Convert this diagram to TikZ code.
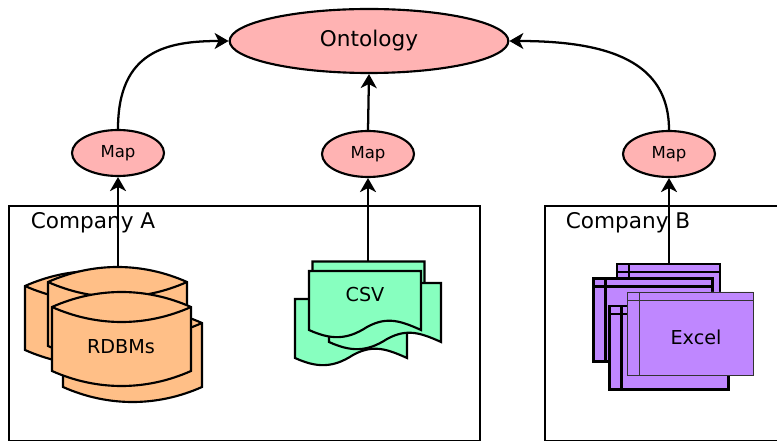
\documentclass[tikz,border=0pt]{standalone}
\usepackage{fontspec}
\setmainfont{DejaVu Sans}
\usetikzlibrary{shapes.geometric}
\usetikzlibrary{arrows.meta}
\definecolor{mypink}{RGB}{255, 179, 179}
\definecolor{myorange}{RGB}{255, 191, 135}
\definecolor{mygreen}{RGB}{135, 255, 191}
\definecolor{mypurple}{RGB}{191, 135, 255}
\tikzset{>={Stealth[length=10.5pt,width=12pt,inset=3pt]}}
\tikzset{outline/.style={draw=black, line width=1.6pt, line join=miter}}
\tikzset{company/.style={outline, line width=1.4pt}}
\tikzset{mapnode/.style={ellipse, outline, fill=mypink, inner sep=0pt, minimum width=69pt, minimum height=34.5pt, font=\fontsize{12.4}{15}\selectfont}}
\tikzset{connect/.style={black, line width=1.7pt, ->}}
\newcommand{\rdbms}[2]{\draw[outline, fill=myorange, shift={(#1,#2)}] (0,0) .. controls (45,-20) and (94,-20) .. (139,0) -- (139,64) .. controls (94,84) and (45,84) .. (0,64) -- cycle;
\draw[outline, shift={(#1,#2)}] (0,0) .. controls (45,20) and (94,20) .. (139,0);}
\newcommand{\csvdoc}[2]{\draw[outline, fill=mygreen, shift={(#1,#2)}] (0,0) -- (112,0) -- (112,59) .. controls (92,50) and (78,45) .. (58,56) .. controls (38,69) and (22,69) .. (0,59) -- cycle;}
\newcommand{\sheet}[5]{\draw[outline, fill=mypurple, shift={(#1,#2)}, #5] (0,0) rectangle (#3,#4) (12,0) -- (12,#4) (0,8) -- (#3,8);}
\begin{document}
\begin{tikzpicture}[x=0.75pt, y=-0.75pt]
\useasboundingbox (0,0) rectangle (777,441);
\clip (0,0) rectangle (777,441);
\draw[company] (9,206) rectangle (480,441);
\draw[company] (545,206) rectangle (790,441);
\node (companyA) [font=\fontsize{16.2}{19}\selectfont] at (93,223) {Company A};
\node (companyB) [font=\fontsize{16.2}{19}\selectfont] at (628,223) {Company B};
\rdbms{25}{286}
\rdbms{63}{323}
\rdbms{48}{282}
\rdbms{52}{307}
\node (rdbmsLabel) [font=\fontsize{14.4}{17}\selectfont] at (121,347) {RDBMs};
\coordinate (rdbmsTop) at (118,266);
\csvdoc{312.5}{261.5}
\csvdoc{295}{299}
\csvdoc{329}{283}
\csvdoc{309}{271}
\node (csvLabel) [font=\fontsize{14.4}{17}\selectfont] at (365,295) {CSV};
\coordinate (csvTop) at (368,261);
\sheet{617}{264}{103}{84}{}
\sheet{593.5}{278.5}{119}{83}{}
\sheet{609.5}{306}{119}{83.5}{}
\sheet{627}{292}{126}{83.5}{line width=0.7pt, draw=black!80}
\node (excelLabel) [font=\fontsize{14.4}{17}\selectfont] at (696,337) {Excel};
\coordinate (excelTop) at (669,264);
\node (ontology) [ellipse, outline, fill=mypink, inner sep=0pt, minimum width=209pt, minimum height=48pt, font=\fontsize{16.2}{19}\selectfont] at (369,41) {\raisebox{-1pt}{Ontology}};
\node (mapA) [mapnode] at (118,153) {\raisebox{-0.7pt}{Map}};
\node (mapCsv) [mapnode] at (368,154) {\raisebox{-0.7pt}{Map}};
\node (mapB) [mapnode] at (669,154) {\raisebox{-0.7pt}{Map}};
\draw[connect] (rdbmsTop) -- (mapA.south);
\draw[connect] (csvTop) -- (mapCsv.south);
\draw[connect] (excelTop) -- (mapB.south);
\draw[connect] (mapCsv.north) -- (ontology.south);
\draw[connect] (mapA.north) .. controls +(0,-78) and +(-62,0) .. (ontology.west);
\draw[connect] (mapB.north) .. controls +(0,-68) and +(100,0) .. (ontology.east);
\end{tikzpicture}
\end{document}
